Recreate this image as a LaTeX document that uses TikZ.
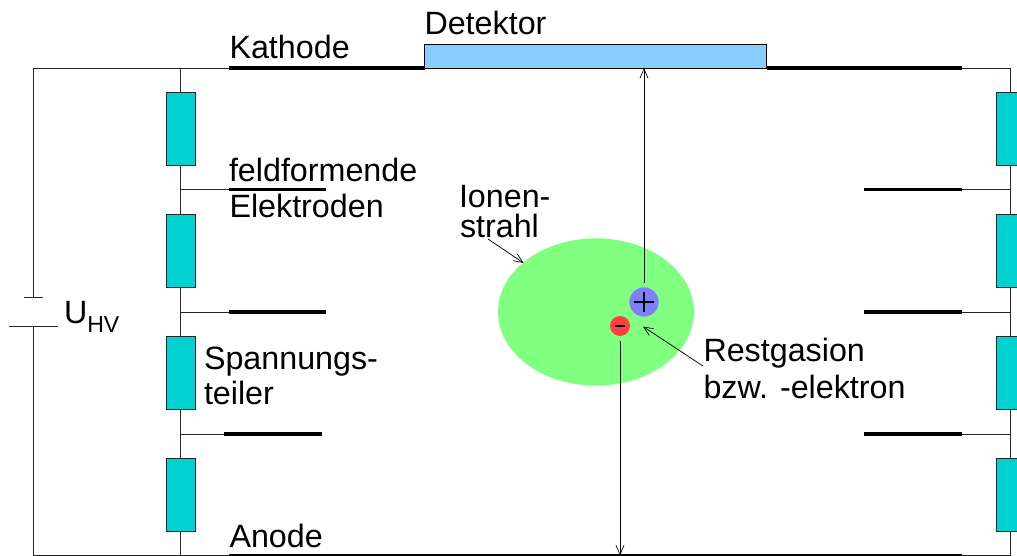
\documentclass[tikz,border=0pt]{standalone}
\usepackage{fontspec}
\setmainfont{Liberation Sans}
\usetikzlibrary{arrows.meta,shapes.geometric}
\definecolor{rescol}{HTML}{00D2D2}
\definecolor{detcol}{HTML}{87CEFF}
\definecolor{beamcol}{HTML}{80FF80}
\definecolor{poscol}{HTML}{8080FF}
\definecolor{negcol}{HTML}{FF4040}
\tikzset{
  wire/.style={line width=0.65pt,draw=black!85},
  electrode/.style={line width=2.4pt,draw=black},
  resistor/.style={draw=black!85,line width=0.6pt,fill=rescol,minimum width=21.75pt,minimum height=55pt,inner sep=0pt,outer sep=0pt},
  lbl/.style={anchor=base west,inner sep=0pt,outer sep=0pt,font=\fontsize{24.2pt}{26pt}\selectfont},
  charge/.style={circle,inner sep=0pt,outer sep=0pt,draw=none},
  pointer/.style={line width=0.55pt,draw=black,-{Straight Barb[length=7pt,width=6pt,line width=0.5pt]},shorten >=0pt}
}
\begin{document}
\begin{tikzpicture}[x=0.75pt,y=-0.75pt]
\useasboundingbox (0,0) rectangle (1017,556);
\clip (0,0) rectangle (1017,556);
% beam
\node[ellipse,fill=beamcol,inner sep=0pt,outer sep=0pt,minimum width=147pt,minimum height=110.5pt] (beam) at (596,312) {};
% resistors
\node[resistor] (rl1) at (180.5,129) {};
\node[resistor] (rl2) at (180.5,251.2) {};
\node[resistor] (rl3) at (180.5,373.2) {};
\node[resistor] (rl4) at (180.5,495.2) {};
\node[resistor] (rr1) at (1011,129) {};
\node[resistor] (rr2) at (1011,251.2) {};
\node[resistor] (rr3) at (1011,373.2) {};
\node[resistor] (rr4) at (1011,495.2) {};
% junction points
\coordinate (kl) at (229,68);
\coordinate (kr) at (962,68);
\coordinate (al) at (229,555.5);
\coordinate (ar) at (962,555.5);
\coordinate (jl0) at (180.5,68);
\coordinate (jl1) at (180.5,189.5);
\coordinate (jl2) at (180.5,312);
\coordinate (jl3) at (180.5,434);
\coordinate (jl4) at (180.5,555.5);
\coordinate (jr0) at (1010.5,68);
\coordinate (jr1) at (1010.5,189.5);
\coordinate (jr2) at (1010.5,312);
\coordinate (jr3) at (1010.5,434);
\coordinate (jr4) at (1010.5,555.5);
\coordinate (el1a) at (229,189.5);
\coordinate (el1b) at (326,189.5);
\coordinate (el2a) at (229,312);
\coordinate (el2b) at (326,312);
\coordinate (el3a) at (224,434);
\coordinate (el3b) at (322,434);
\coordinate (er1a) at (864,189.5);
\coordinate (er1b) at (962,189.5);
\coordinate (er2a) at (864,312);
\coordinate (er2b) at (962,312);
\coordinate (er3a) at (864,434);
\coordinate (er3b) at (962,434);
\coordinate (bt) at (33,297);
\coordinate (bb) at (33,326);
\coordinate (bt1) at (24,297);
\coordinate (bt2) at (43,297);
\coordinate (bb1) at (9,326);
\coordinate (bb2) at (58,326);
\coordinate (c0) at (33,68);
\coordinate (c1) at (33,555.5);
% wires
\draw[wire] (bt) -- (c0) -- (kl);
\draw[wire] (bb) -- (c1) -- (al);
\draw[wire] (bt1) -- (bt2);
\draw[wire] (bb1) -- (bb2);
\draw[wire] (kr) -- (jr0);
\draw[wire] (ar) -- (jr4);
\draw[wire] (jl0) -- (rl1);
\draw[wire] (rl1) -- (rl2);
\draw[wire] (rl2) -- (rl3);
\draw[wire] (rl3) -- (rl4);
\draw[wire] (rl4) -- (jl4);
\draw[wire] (jr0) -- (jr0 |- rr1.north);
\draw[wire] (jr1 |- rr1.south) -- (jr1 |- rr2.north);
\draw[wire] (jr2 |- rr2.south) -- (jr2 |- rr3.north);
\draw[wire] (jr3 |- rr3.south) -- (jr3 |- rr4.north);
\draw[wire] (jr4 |- rr4.south) -- (jr4);
\draw[wire] (jl1) -- (el1a);
\draw[wire] (jl2) -- (el2a);
\draw[wire] (jl3) -- (el3a);
\draw[wire] (er1b) -- (jr1);
\draw[wire] (er2b) -- (jr2);
\draw[wire] (er3b) -- (jr3);
% detector
\node[draw=black,line width=0.6pt,fill=detcol,inner sep=0pt,outer sep=0pt,minimum width=256.5pt,minimum height=18pt] (det) at (595.7,56) {};
% electrodes
\draw[electrode] (el1a) -- (el1b);
\draw[electrode] (el2a) -- (el2b);
\draw[electrode] (el3a) -- (el3b);
\draw[electrode] (er1a) -- (er1b);
\draw[electrode] (er2a) -- (er2b);
\draw[electrode] (er3a) -- (er3b);
\draw[electrode] (al) -- (ar);
\draw[electrode] (kl) -- (kl -| det.south west);
\draw[electrode] (kr -| det.south east) -- (kr);
% charges
\node[charge,fill=poscol,minimum size=22pt] (pos) at (644,302) {};
\node[charge,fill=negcol,minimum size=15pt] (neg) at (620,326) {};
\draw[line width=0.9pt] (634,302) -- (654,302) (644,292) -- (644,312);
\draw[line width=0.9pt] (615,326) -- (625,326);
% drift arrows
\coordinate (posgap) at (644,283);
\coordinate (neggap) at (620,341);
\draw[pointer] (posgap) -- (det.south -| posgap);
\draw[pointer] (neggap) -- (neggap |- al);
% labels
\node[lbl] (tkath) at (229.5,59) {Kathode};
\node[lbl] (tdet) at (424.5,35) {Detektor};
\node[lbl] (tfeld) at (229,181) {feldformende};
\node[lbl] (telek) at (229.5,218) {Elektroden};
\node[lbl] (tion) at (459,208) {Ionen-};
\node[lbl] (tstr) at (460,237) {strahl};
\node[lbl] (tuhv) at (64,323) {U\raisebox{-6.75pt}{\fontsize{17.3pt}{19pt}\selectfont HV}};
\node[lbl] (tspan) at (204,369) {Spannungs-};
\node[lbl] (tteil) at (204,404) {teiler};
\node[lbl] (tanode) at (229.5,547) {Anode};
\node[lbl] (trest) at (703.5,361) {Restgasion};
\node[lbl] (tbzw) at (703.5,398) {bzw. -elektron};
% pointers
\coordinate (pstart1) at (488,239);
\coordinate (pstart2) at (703,366);
\coordinate (ptip1) at (523.5,263);
\coordinate (ptip2) at (643,326.5);
\draw[pointer] (pstart1) -- (ptip1);
\draw[pointer] (pstart2) -- (ptip2);
\end{tikzpicture}
\end{document}
